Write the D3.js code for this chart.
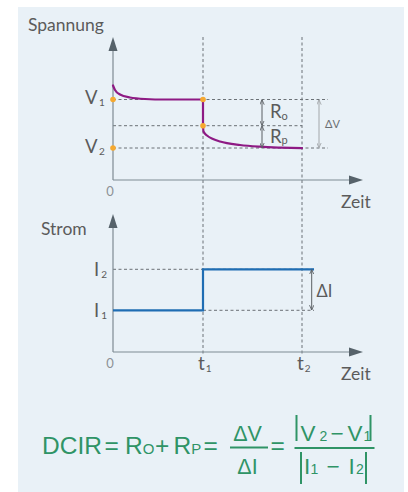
<!DOCTYPE html>
<html>
<head>
<meta charset="utf-8">
<script src="https://cdn.jsdelivr.net/npm/d3@7"></script>
<style>
  html, body { margin: 0; padding: 0; background: #fff; }
  svg { display: block; }
</style>
</head>
<body>
<div id="chart"></div>
<script>
// --- data (time in arbitrary units, levels in arbitrary units)
const timeMarks = [9, 18.9];               // t1, t2
const timeNames = ['1', '2'];              // subscripts of t
const voltageLevels = [8.05, 5.43, 3.2];   // V1, after the R0 drop, V2
const voltageNames = ['1', '', '2'];
const firstPhase = [[0, 9.45], [0.2, 9.0], [0.7, 8.55], [1.7, 8.25], [3.2, 8.1], [5.2, 8.05], [9, 8.05]];
const relaxPhase = [[9, 5.43], [9.05, 4.85], [9.4, 4.45], [10, 4.1], [10.7, 3.85], [12.7, 3.5], [14.7, 3.33], [16.7, 3.24], [18.9, 3.18]];
const currentLevels = [4.17, 8.27];        // I1, I2
const currentNames = ['1', '2'];
const currentStep = [[0, 4.17], [9, 8.27], [20.1, 8.27]];

// --- setup
const width = 408;
const height = 492;
const font = 'Lato, "Open Sans", sans-serif';
const textColor = '#5b5b5b';
const axisColor = '#7f8b93';
const headColor = '#56626a';
const dashColor = '#6b7176';
const green = '#2f9466';

const svg = d3.select('#chart')
  .append('svg')
  .attr('width', width)
  .attr('height', height)
  .attr('viewBox', [0, 0, width, height]);

svg.append('rect')
  .attr('x', 18).attr('y', 7)
  .attr('width', 386).attr('height', 485)
  .attr('fill', '#e9f1f7');

// --- scales
const x = d3.scaleLinear().domain([0, 25]).range([113, 363]);
const yV = d3.scaleLinear().domain([0, 14.3]).range([180, 37]);
const yI = d3.scaleLinear().domain([0, 13.8]).range([352, 214]);

// arrow markers
const defs = svg.append('defs');
function addMarker(id, color) {
  defs.append('marker')
    .attr('id', id)
    .attr('viewBox', '0 0 8 8')
    .attr('refX', 7.5).attr('refY', 4)
    .attr('markerWidth', 5).attr('markerHeight', 5)
    .attr('markerUnits', 'userSpaceOnUse')
    .attr('orient', 'auto-start-reverse')
    .append('path')
    .attr('d', 'M0,0.5 L8,4 L0,7.5')
    .attr('fill', 'none')
    .attr('stroke', color)
    .attr('stroke-width', 1.4);
}
addMarker('arr-dark', '#5a5f63');
addMarker('arr-light', '#a3a7aa');

// --- dashed reference lines
const dashes = svg.append('g')
  .attr('stroke', dashColor)
  .attr('stroke-width', 1)
  .attr('stroke-dasharray', '3,2.5')
  .attr('fill', 'none');

dashes.selectAll('.vdash')
  .data(timeMarks)
  .join('line')
    .attr('x1', d => x(d)).attr('x2', d => x(d))
    .attr('y1', yV(14.3)).attr('y2', yI(-0.3));

dashes.selectAll('.hdash-v')
  .data(voltageLevels)
  .join('line')
    .attr('x1', x(0))
    .attr('x2', (d, i) => i === 1 ? x(timeMarks[1]) : x(21.5))
    .attr('y1', d => yV(d)).attr('y2', d => yV(d));

dashes.append('line')
  .attr('x1', x(0)).attr('x2', x(20.1))
  .attr('y1', yI(currentLevels[1])).attr('y2', yI(currentLevels[1]));
dashes.append('line')
  .attr('x1', x(timeMarks[0])).attr('x2', x(20.1))
  .attr('y1', yI(currentLevels[0])).attr('y2', yI(currentLevels[0]));

// --- axes (plain lines with arrow heads)
function drawAxes(yScale) {
  const [y0, yTop] = yScale.range();
  const g = svg.append('g');
  g.append('line')
    .attr('x1', x(0)).attr('x2', x(0))
    .attr('y1', y0).attr('y2', yTop + 12)
    .attr('stroke', axisColor).attr('stroke-width', 1.2);
  g.append('line')
    .attr('x1', x(0)).attr('x2', x.range()[1] - 12)
    .attr('y1', y0).attr('y2', y0)
    .attr('stroke', axisColor).attr('stroke-width', 1.2);
  g.append('path')
    .attr('d', `M${x(0)},${yTop} L${x(0) + 4.5},${yTop + 14} L${x(0) - 4.5},${yTop + 14}Z`)
    .attr('fill', headColor);
  const xe = x.range()[1];
  g.append('path')
    .attr('d', `M${xe},${y0} L${xe - 14},${y0 - 4.5} L${xe - 14},${y0 + 4.5}Z`)
    .attr('fill', headColor);
  g.append('text')
    .attr('x', x(0) - 3).attr('y', y0 + 16)
    .attr('text-anchor', 'middle')
    .attr('font-family', font).attr('font-size', 13)
    .attr('fill', '#8d9296')
    .text('0');
  g.append('text')
    .attr('x', 341).attr('y', y0 + 28)
    .attr('font-family', font).attr('font-size', 17.5)
    .attr('fill', textColor)
    .text('Zeit');
}
drawAxes(yV);
drawAxes(yI);

// axis titles
svg.append('text')
  .attr('x', 28).attr('y', 30.7)
  .attr('font-family', font).attr('font-size', 17.5)
  .attr('fill', textColor)
  .text('Spannung');
svg.append('text')
  .attr('x', 41).attr('y', 235)
  .attr('font-family', font).attr('font-size', 17.5)
  .attr('fill', textColor)
  .text('Strom');

// --- voltage curve
const line = d3.line()
  .x(d => x(d[0]))
  .y(d => yV(d[1]))
  .curve(d3.curveMonotoneX);

const voltage = svg.append('g')
  .attr('fill', 'none')
  .attr('stroke', '#8e1a84')
  .attr('stroke-width', 2.2)
  .attr('stroke-linecap', 'round')
  .attr('stroke-linejoin', 'round');

voltage.append('path').attr('d', line(firstPhase));
voltage.append('line')
  .attr('x1', x(timeMarks[0])).attr('x2', x(timeMarks[0]))
  .attr('y1', yV(voltageLevels[0])).attr('y2', yV(voltageLevels[1]));
voltage.append('path').attr('d', line(relaxPhase));

// --- current step
const stepLine = d3.line()
  .x(d => x(d[0]))
  .y(d => yI(d[1]))
  .curve(d3.curveStepAfter);

svg.append('path')
  .attr('d', stepLine(currentStep))
  .attr('fill', 'none')
  .attr('stroke', '#1f6db3')
  .attr('stroke-width', 2.2);

// --- orange points
const dots = [
  [0, voltageLevels[0]],
  [timeMarks[0], voltageLevels[0]],
  [timeMarks[0], voltageLevels[1]],
  [0, voltageLevels[2]]
];
svg.selectAll('.dot')
  .data(dots)
  .join('circle')
    .attr('class', 'dot')
    .attr('cx', d => x(d[0]))
    .attr('cy', d => yV(d[1]))
    .attr('r', 2.8)
    .attr('fill', '#f6a930');

// --- difference arrows
function arrow(xPos, y1, y2, marker, color) {
  svg.append('line')
    .attr('x1', xPos).attr('x2', xPos)
    .attr('y1', y1 + 0.5).attr('y2', y2 - 0.5)
    .attr('stroke', color).attr('stroke-width', 1)
    .attr('marker-start', `url(#${marker})`)
    .attr('marker-end', `url(#${marker})`);
}
arrow(x(14.9), yV(voltageLevels[0]), yV(voltageLevels[1]), 'arr-dark', '#5a5f63');
arrow(x(14.9), yV(voltageLevels[1]), yV(voltageLevels[2]), 'arr-dark', '#5a5f63');
arrow(x(20.6), yV(voltageLevels[0]), yV(voltageLevels[2]), 'arr-light', '#a3a7aa');
arrow(x(19.87), yI(currentLevels[1]), yI(currentLevels[0]), 'arr-dark', '#5a5f63');

// --- labels with subscripts
function subLabel(xPos, yPos, main, sub, size = 18, subSize = 10, subDx = 1, subDy = 2) {
  const t = svg.append('text')
    .attr('x', xPos).attr('y', yPos)
    .attr('font-family', font)
    .attr('font-size', size)
    .attr('fill', textColor);
  t.append('tspan').text(main);
  if (sub) {
    t.append('tspan')
      .attr('dx', subDx).attr('dy', subDy)
      .attr('font-size', subSize)
      .text(sub);
  }
  return t;
}

voltageLevels.forEach((v, i) => {
  if (voltageNames[i]) subLabel(85, yV(v) + 4.8, 'V', voltageNames[i], 18.5, 10, 1.5, 1.8);
});
currentLevels.forEach((c, i) => {
  subLabel(94, yI(c) + 6.6, 'I', currentNames[i], 18.5, 10, 2, 1.8);
});
timeMarks.forEach((t, i) => {
  subLabel(x(t) - 5, 370, 't', timeNames[i], 19, 10, 1, 2);
});

subLabel(270, 118.3, 'R', 'o', 18.5, 11, 0, 1.2);
subLabel(270, 142.7, 'R', 'p', 18.5, 11, 0, 1.2);

svg.append('text')
  .attr('x', 325).attr('y', 127.7)
  .attr('font-family', font).attr('font-size', 11)
  .attr('fill', '#6a6e72')
  .text('ΔV');
svg.append('text')
  .attr('x', 316.5).attr('y', 296.7)
  .attr('font-family', font).attr('font-size', 16.5)
  .attr('fill', textColor)
  .text('ΔI');

// --- formula
const fFont = '"Liberation Sans", Arial, sans-serif';
const formula = svg.append('g')
  .attr('fill', green)
  .attr('font-family', fFont);

function ftext(xPos, yPos, str, size, anchor = 'start') {
  return formula.append('text')
    .attr('x', xPos).attr('y', yPos)
    .attr('font-size', size)
    .attr('text-anchor', anchor)
    .text(str);
}
// letter with a small tail letter, kept in one text element
function fsub(xPos, yPos, main, tail) {
  const t = formula.append('text')
    .attr('x', xPos).attr('y', yPos)
    .attr('font-size', 24.5);
  t.append('tspan').text(main);
  t.append('tspan').attr('font-size', 15).text(tail);
}
function fbar(x1, y1, x2, y2) {
  formula.append('line')
    .attr('x1', x1).attr('y1', y1).attr('x2', x2).attr('y2', y2)
    .attr('stroke', green).attr('stroke-width', 2);
}

ftext(42, 454.3, 'DCIR', 24.5);
ftext(104.5, 454.3, '=', 24.5);
fsub(125, 454.3, 'R', 'O');
ftext(155, 454.3, '+', 24.5);
fsub(173.5, 454.3, 'R', 'P');
ftext(203.5, 454.3, '=', 24.5);

ftext(247.5, 440.5, 'ΔV', 21.5, 'middle');
fbar(230, 447.5, 268, 447.5);
ftext(247.5, 474, 'ΔI', 21.5, 'middle');

ftext(270.5, 454.3, '=', 24.5);

fbar(294.5, 448, 374.5, 448);
fbar(296.5, 415, 296.5, 441);
ftext(300.5, 440.5, 'V', 22.5);
ftext(319.5, 440.5, '2', 14);
ftext(330.5, 440.5, '−', 22.5);
ftext(347.5, 440.5, 'V', 22.5);
ftext(363.5, 440.5, '1', 14);
fbar(370.5, 415, 370.5, 441);

fbar(301, 452, 301, 484);
ftext(304, 474, 'I', 22.5);
ftext(310.5, 474, '1', 14);
ftext(326.5, 474, '−', 22.5);
ftext(348.5, 474, 'I', 22.5);
ftext(356, 474, '2', 14);
fbar(366, 452, 366, 484);
</script>
</body>
</html>
